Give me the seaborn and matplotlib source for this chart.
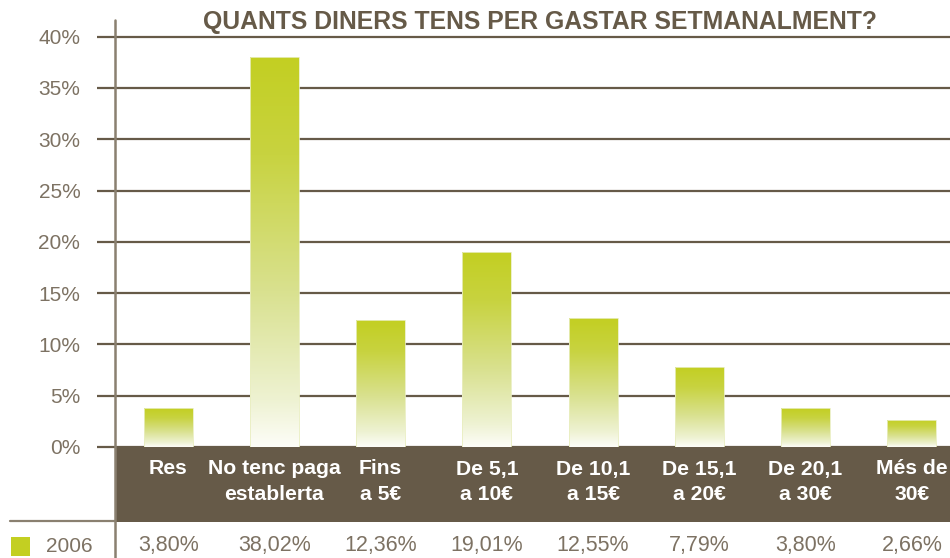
import numpy as np
import seaborn as sns
import matplotlib.pyplot as plt
import pandas as pd
from matplotlib.colors import LinearSegmentedColormap
from matplotlib.lines import Line2D
from matplotlib.patches import Rectangle

# dades
categories = ["Res", "No tenc paga\nestablerta", "Fins\na 5€", "De 5,1\na 10€",
              "De 10,1\na 15€", "De 15,1\na 20€", "De 20,1\na 30€", "Més de\n30€"]
valors_2006 = [3.80, 38.02, 12.36, 19.01, 12.55, 7.79, 3.80, 2.66]
etiquetes_valors = ["3,80%", "38,02%", "12,36%", "19,01%", "12,55%", "7,79%", "3,80%", "2,66%"]
serie = "2006"
yticks = [0, 5, 10, 15, 20, 25, 30, 35, 40]

MARRO = "#665a48"
GRIS = "#7d7263"
VERD = "#c3cf22"

sns.set_style("white")
plt.rcParams["font.family"] = ["Liberation Sans", "DejaVu Sans"]

W, H = 950, 558
fig = plt.figure(figsize=(9.5, 5.58), dpi=100)
ax = fig.add_axes([115 / W, 1 - 447 / H, 850 / W, 427 / H])
ax.set_facecolor("none")

df = pd.DataFrame({"Categoria": categories, "Valor": valors_2006})
sns.barplot(x="Categoria", y="Valor", data=df, ax=ax, color=VERD, width=0.46, zorder=3)

# degradat de cada barra (verd a dalt, blanc a baix)
cmap = LinearSegmentedColormap.from_list(
    "grad", [(0, "#fdfdf8"), (0.12, "#eef2d2"), (0.4, "#d9e18f"), (0.75, "#c8d340"), (1, VERD)])
grad = np.linspace(0, 1, 256).reshape(-1, 1)
for p in ax.patches:
    x, w, h = p.get_x(), p.get_width(), p.get_height()
    p.set_facecolor("none")
    p.set_edgecolor("#e9eec0")
    p.set_linewidth(0.6)
    im = ax.imshow(grad, cmap=cmap, origin="lower", aspect="auto",
                   extent=[x, x + w, 0, h], zorder=2.9)
    im.set_clip_path(p)

ax.set_xlim(-0.5, len(categories) - 0.5)
ax.set_ylim(0, 40 * 427 / 410.3)
ax.set_yticks(yticks)
ax.set_yticklabels([f"{t}%" for t in yticks])
ax.yaxis.grid(True, color=MARRO, linewidth=1.6, zorder=1)
ax.set_axisbelow(True)
ax.tick_params(axis="y", length=13, width=1.6, color=MARRO, pad=12,
               labelsize=15, labelcolor=GRIS, left=True)
ax.tick_params(axis="x", length=0, pad=9, labelsize=15.2, labelcolor="white")
for lab in ax.get_xticklabels():
    lab.set_fontweight("bold")
    lab.set_verticalalignment("top")
    lab.set_linespacing(1.42)
ax.set_xlabel("")
ax.set_ylabel("")
for s in ax.spines.values():
    s.set_visible(False)

# banda marró de les categories
ax.add_patch(Rectangle((0, -75 / 427), 1.2, 75 / 427, transform=ax.transAxes,
                       facecolor=MARRO, edgecolor="none", clip_on=False, zorder=0.5))

# eix vertical i línia de la taula
fig.add_artist(Line2D([115 / W, 115 / W], [0, 1 - 20 / H], color="#8a8070", linewidth=1.8))
fig.add_artist(Line2D([10 / W, 115 / W], [1 - 521 / H, 1 - 521 / H], color="#8a8070", linewidth=1.6))

# fila de la taula
fig.add_artist(Rectangle((11 / W, 1 - 556 / H), 19 / W, 19 / H, transform=fig.transFigure,
                         facecolor=VERD, edgecolor="none"))
fig.text(93 / W, 1 - 546 / H, serie, ha="right", va="center", fontsize=15, color=GRIS)
for i, t in enumerate(etiquetes_valors):
    xd = ax.transData.transform((i, 0))[0]
    fig.text(xd / W, 1 - 546 / H, t, ha="center", va="center", fontsize=15.5, color=GRIS)

fig.text(540 / W, 1 - 22 / H, "QUANTS DINERS TENS PER GASTAR SETMANALMENT?",
         ha="center", va="center", fontsize=17.8, fontweight="bold", color=MARRO)

fig.savefig("out.png", dpi=100)
